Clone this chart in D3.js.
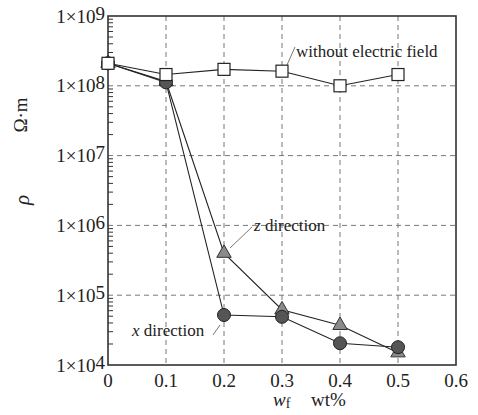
<!DOCTYPE html>
<html>
<head>
<meta charset="utf-8">
<script src="https://cdn.jsdelivr.net/npm/d3@7"></script>
</head>
<body style="margin:0">
<div id="chart"></div>
<script>
const width = 478,
  height = 415,
  margin = { top: 16, bottom: 50, left: 108, right: 22 },
  serif = "Liberation Serif";

// data
const wf = [0, 0.1, 0.2, 0.3, 0.4, 0.5];
const noField = [2.1e8, 1.45e8, 1.72e8, 1.62e8, 1.0e8, 1.45e8];
const xDir = [2.1e8, 1.12e8, 5.2e4, 4.9e4, 2.05e4, 1.8e4];
const zDir = [2.1e8, 1.15e8, 4.0e5, 6.2e4, 3.7e4, 1.5e4];
const xTicks = [0, 0.1, 0.2, 0.3, 0.4, 0.5, 0.6];
const yExp = [4, 5, 6, 7, 8, 9];

/* SCALES */
const xScale = d3.scaleLinear()
  .domain([0, 0.6])
  .range([margin.left, width - margin.right]);

const yScale = d3.scaleLog()
  .domain([1e4, 1e9])
  .range([height - margin.bottom, margin.top]);

const svg = d3.select("#chart")
  .append("svg")
  .attr("width", width)
  .attr("height", height);

const x0 = margin.left, x1 = width - margin.right,
  y0 = height - margin.bottom, y1 = margin.top;

// dashed grid
svg.append("g")
  .selectAll("line")
  .data(xTicks.slice(1, -1))
  .join("line")
  .attr("x1", d => xScale(d)).attr("x2", d => xScale(d))
  .attr("y1", y1).attr("y2", y0)
  .attr("stroke", "#777").attr("stroke-width", 1)
  .attr("stroke-dasharray", "5,4");

svg.append("g")
  .selectAll("line")
  .data(yExp.slice(1, -1))
  .join("line")
  .attr("x1", x0).attr("x2", x1)
  .attr("y1", d => yScale(Math.pow(10, d))).attr("y2", d => yScale(Math.pow(10, d)))
  .attr("stroke", "#777").attr("stroke-width", 1)
  .attr("stroke-dasharray", "5,4");

// minor ticks on left axis (inward)
const minor = [];
yExp.slice(0, -1).forEach(e => {
  for (let k = 2; k <= 9; k++) minor.push(k * Math.pow(10, e));
});
svg.append("g")
  .selectAll("line")
  .data(minor)
  .join("line")
  .attr("x1", x0).attr("x2", x0 + 5)
  .attr("y1", d => yScale(d)).attr("y2", d => yScale(d))
  .attr("stroke", "#333").attr("stroke-width", 1);

// frame
svg.append("rect")
  .attr("x", x0).attr("y", y1)
  .attr("width", x1 - x0).attr("height", y0 - y1)
  .attr("fill", "none")
  .attr("stroke", "#333")
  .attr("stroke-width", 1.6);

// x tick labels
svg.append("g")
  .selectAll("text")
  .data(xTicks)
  .join("text")
  .attr("font-family", serif)
  .attr("fill", "#222")
  .attr("x", d => xScale(d))
  .attr("y", y0 + 22)
  .attr("text-anchor", "middle")
  .attr("font-size", 19)
  .text(d => d === 0 ? "0" : d.toFixed(1));

// y tick labels
const yLab = svg.append("g")
  .selectAll("text")
  .data(yExp)
  .join("text")
  .attr("font-family", serif)
  .attr("fill", "#222")
  .attr("x", x0 - 3)
  .attr("y", d => yScale(Math.pow(10, d)))
  .attr("dy", "0.35em")
  .attr("text-anchor", "end")
  .attr("font-size", 19);
yLab.append("tspan").text("1×10");
yLab.append("tspan").attr("dy", -3).text(d => d);

// axis titles
svg.append("text")
  .attr("font-family", serif)
  .attr("fill", "#222")
  .attr("transform", "translate(27,115) rotate(-90)")
  .attr("text-anchor", "middle")
  .attr("font-size", 19)
  .text("Ω·m");

svg.append("text")
  .attr("font-family", serif)
  .attr("fill", "#222")
  .attr("transform", "translate(29,200) rotate(-90)")
  .attr("text-anchor", "middle")
  .attr("font-size", 21)
  .attr("font-style", "italic")
  .text("ρ");

const wfLabel = svg.append("text")
  .attr("font-family", serif)
  .attr("fill", "#222")
  .attr("x", 273)
  .attr("y", 406)
  .attr("font-size", 19);
wfLabel.append("tspan").attr("font-style", "italic").text("w");
wfLabel.append("tspan").attr("font-size", 14).attr("dy", 2).text("f");

svg.append("text")
  .attr("font-family", serif)
  .attr("fill", "#222")
  .attr("x", 311)
  .attr("y", 406)
  .attr("font-size", 19)
  .text("wt%");

/* LINES */
const line = d3.line()
  .x((d, i) => xScale(wf[i]))
  .y(d => yScale(d));

[noField, zDir, xDir].forEach(s => {
  svg.append("path")
    .datum(s)
    .attr("d", line)
    .attr("fill", "none")
    .attr("stroke", "#222")
    .attr("stroke-width", 1.1);
});

// annotation leaders
const leaders = [
  [287, 65, 295, 47],
  [230, 248, 252, 227],
  [213, 335, 220, 325]
];
svg.append("g")
  .selectAll("line")
  .data(leaders)
  .join("line")
  .attr("x1", d => d[0]).attr("y1", d => d[1])
  .attr("x2", d => d[2]).attr("y2", d => d[3])
  .attr("stroke", "#777").attr("stroke-width", 1);

/* MARKERS */
svg.append("g")
  .selectAll("path")
  .data(zDir)
  .join("path")
  .attr("transform", (d, i) => `translate(${xScale(wf[i])},${yScale(d)})`)
  .attr("d", d3.symbol(d3.symbolTriangle, 90))
  .attr("fill", "#8a8a8a")
  .attr("stroke", "#333")
  .attr("stroke-width", 1);

svg.append("g")
  .selectAll("circle")
  .data(xDir)
  .join("circle")
  .attr("cx", (d, i) => xScale(wf[i]))
  .attr("cy", d => yScale(d))
  .attr("r", 6.5)
  .attr("fill", "#555")
  .attr("stroke", "#222")
  .attr("stroke-width", 1);

svg.append("g")
  .selectAll("rect")
  .data(noField)
  .join("rect")
  .attr("x", (d, i) => xScale(wf[i]) - 6)
  .attr("y", d => yScale(d) - 6)
  .attr("width", 12).attr("height", 12)
  .attr("fill", "#fff")
  .attr("stroke", "#222")
  .attr("stroke-width", 1.2);

// series labels
svg.append("text")
  .attr("font-family", serif)
  .attr("fill", "#222")
  .attr("x", 296).attr("y", 57)
  .attr("font-size", 17)
  .text("without electric field");

const zl = svg.append("text")
  .attr("font-family", serif)
  .attr("fill", "#222")
  .attr("x", 254).attr("y", 231)
  .attr("font-size", 17);
zl.append("tspan").attr("font-style", "italic").text("z");
zl.append("tspan").text(" direction");

const xl = svg.append("text")
  .attr("font-family", serif)
  .attr("fill", "#222")
  .attr("x", 132).attr("y", 336)
  .attr("font-size", 17);
xl.append("tspan").attr("font-style", "italic").text("x");
xl.append("tspan").text(" direction");
</script>
</body>
</html>
